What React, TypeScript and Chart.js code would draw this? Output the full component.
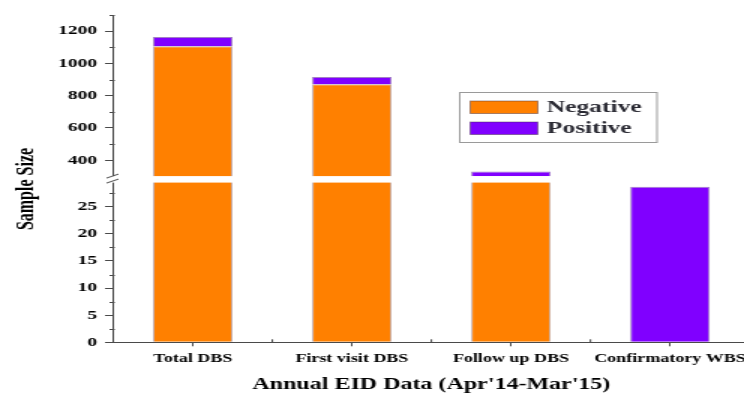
import React, { useEffect, useRef } from 'react';
import { Chart, registerables } from 'chart.js';

Chart.register(...registerables);

// ---- data ----
const categories = ['Total DBS', 'First visit DBS', 'Follow up DBS', 'Confirmatory WBS'];
const seriesNames = ['Negative', 'Positive'];
const negativeValues = [1107, 871, 300, 0];
const positiveValues = [56, 44, 30, 28.7];
const upperTickValues = [400, 500, 600, 700, 800, 900, 1000, 1100, 1200, 1300];
const upperTickLabels = ['400', '', '600', '', '800', '', '1000', '', '1200', ''];
const lowerTickValues = [0, 2.5, 5, 7.5, 10, 12.5, 15, 17.5, 20, 22.5, 25, 27.5];
const lowerTickLabels = ['0', '', '5', '', '10', '', '15', '', '20', '', '25', ''];
const upperRange = [280, 1300];
const lowerRange = [0, 30];
const xTitle = "Annual EID Data (Apr'14-Mar'15)";
const yTitle = 'Sample Size';

// ---- styles ----
const ORANGE = '#FF8000';
const PURPLE = '#8000FF';
const AXIS = '#4a4a4a';
const TEXT = '#000000';
const FONT = "'Liberation Serif', 'Times New Roman', serif";
const W = 504;
const H = 394;
const SX = 1.5;
const PLOT_TOP = 15;
const PLOT_BOTTOM = 342.3;
const PLOT_LEFT = 75.5;
const PLOT_RIGHT = 499.7;

const clipPlugin = {
  id: 'segClip',
  beforeDatasetDraw(chart: any, args: any) {
    const ys = chart.scales[args.meta.yAxisID];
    const ctx = chart.ctx;
    ctx.save();
    ctx.beginPath();
    ctx.rect(chart.chartArea.left, ys.top, chart.chartArea.right - chart.chartArea.left, ys.bottom - ys.top);
    ctx.clip();
  },
  afterDatasetDraw(chart: any) {
    chart.ctx.restore();
  },
};

const decorPlugin = {
  id: 'decor',
  afterDatasetsDraw(chart: any) {
    const ctx = chart.ctx;
    const area = chart.chartArea;
    const lower = chart.scales.y;
    const upper = chart.scales.yTop;
    const x = chart.scales.x;
    const axisX = area.left;
    ctx.save();
    // break band
    const by = lower.top;
    ctx.fillStyle = '#ffffff';
    ctx.fillRect(axisX - 6, by - 3.5, area.right - axisX + 6, 6.5);
    // break marks
    ctx.strokeStyle = AXIS;
    ctx.lineWidth = 1;
    ctx.beginPath();
    ctx.moveTo(axisX - 4.5, by - 1.5);
    ctx.lineTo(axisX + 3.5, by - 5.5);
    ctx.moveTo(axisX - 4.5, by + 3.5);
    ctx.lineTo(axisX + 3.5, by - 0.5);
    ctx.stroke();
    // minor y ticks
    ctx.beginPath();
    upperTickValues.forEach((v, i) => {
      if (upperTickLabels[i] === '') {
        const py = Math.round(upper.getPixelForValue(v)) + 0.5;
        ctx.moveTo(axisX - 2.5, py);
        ctx.lineTo(axisX + 1, py);
      }
    });
    lowerTickValues.forEach((v, i) => {
      if (lowerTickLabels[i] === '') {
        const py = Math.round(lower.getPixelForValue(v)) + 0.5;
        ctx.moveTo(axisX - 2.5, py);
        ctx.lineTo(axisX + 1, py);
      }
    });
    // category boundary ticks on x axis
    const n = categories.length;
    for (let i = 0; i <= n; i++) {
      const px = x.left + (i * (x.right - x.left)) / n;
      ctx.moveTo(px, area.bottom);
      ctx.lineTo(px, area.bottom - 3);
    }
    ctx.stroke();
    ctx.restore();
  },
  afterDraw(chart: any) {
    const ctx = chart.ctx;
    ctx.save();
    // y axis title
    ctx.translate(18, 189);
    ctx.rotate(-Math.PI / 2);
    ctx.fillStyle = TEXT;
    ctx.font = `bold 16px ${FONT}`;
    ctx.textAlign = 'center';
    ctx.textBaseline = 'middle';
    ctx.fillText(yTitle, 0, 0);
    ctx.restore();

    // legend
    ctx.save();
    const lx = 306.5, ly = 92.5, lw = 131.5, lh = 50;
    ctx.fillStyle = '#ffffff';
    ctx.fillRect(lx, ly, lw, lh);
    ctx.strokeStyle = '#9a9a9a';
    ctx.lineWidth = 1;
    ctx.strokeRect(lx, ly, lw, lh);
    const colors = [ORANGE, PURPLE];
    const rows = [101, 122];
    seriesNames.forEach((name, i) => {
      ctx.fillStyle = colors[i];
      ctx.fillRect(313.5, rows[i], 45, 12.5);
      ctx.strokeStyle = 'rgba(60,40,60,0.45)';
      ctx.strokeRect(313.5, rows[i], 45, 12.5);
      ctx.fillStyle = '#2a2a33';
      ctx.font = `bold 17px ${FONT}`;
      ctx.textAlign = 'left';
      ctx.textBaseline = 'middle';
      ctx.fillText(name, 364.5, rows[i] + 6.5);
    });
    ctx.restore();
  },
};

export default function App() {
  const ref = useRef<HTMLCanvasElement | null>(null);

  useEffect(() => {
    if (!ref.current) return;
    const barCommon = {
      borderWidth: 1,
      borderSkipped: 'start' as const,
      barPercentage: 0.5,
      categoryPercentage: 1,
      stack: 's',
    };
    const chart = new Chart(ref.current, {
      type: 'bar',
      data: {
        labels: categories,
        datasets: [
          { ...barCommon, label: seriesNames[0], data: negativeValues, backgroundColor: ORANGE, borderColor: 'rgba(120,70,70,0.45)', yAxisID: 'y' },
          { ...barCommon, label: seriesNames[1], data: positiveValues, backgroundColor: PURPLE, borderColor: 'rgba(70,0,140,0.5)', yAxisID: 'y' },
          { ...barCommon, label: seriesNames[0], data: negativeValues, backgroundColor: ORANGE, borderColor: 'rgba(120,70,70,0.45)', yAxisID: 'yTop' },
          { ...barCommon, label: seriesNames[1], data: positiveValues, backgroundColor: PURPLE, borderColor: 'rgba(70,0,140,0.5)', yAxisID: 'yTop' },
        ],
      },
      options: {
        responsive: false,
        animation: false,
        devicePixelRatio: 1,
        layout: { padding: { top: PLOT_TOP, left: 0, right: W - PLOT_RIGHT, bottom: 0 } },
        plugins: { legend: { display: false }, tooltip: { enabled: false } },
        scales: {
          x: {
            type: 'category',
            position: 'bottom',
            stacked: true,
            offset: true,
            grid: { display: true, drawOnChartArea: false, drawTicks: true, tickLength: 4, offset: false, color: AXIS, tickColor: AXIS },
            border: { display: true, color: AXIS, width: 1 },
            ticks: { color: TEXT, font: { family: FONT, size: 12, weight: 'bold' }, padding: 5, maxRotation: 0, autoSkip: false },
            title: { display: true, text: xTitle, color: TEXT, font: { family: FONT, size: 16, weight: 'bold' }, padding: { top: 0, bottom: 0 } },
            afterFit: (s: any) => { s.height = H - PLOT_BOTTOM; },
          },
          y: {
            type: 'linear',
            position: 'left',
            stack: 'broken',
            stackWeight: (lowerRange[1] - lowerRange[0]) * 5.42,
            stacked: true,
            min: lowerRange[0],
            max: lowerRange[1],
            grid: {
              display: true, drawOnChartArea: false, drawTicks: true, tickLength: 5.5,
              tickColor: (c: any) => (lowerTickLabels[c.index] ? AXIS : 'rgba(0,0,0,0)'),
            },
            border: { display: true, color: AXIS, width: 1 },
            afterBuildTicks: (s: any) => { s.ticks = lowerTickValues.map((v) => ({ value: v })); },
            ticks: { autoSkip: false, color: TEXT, padding: 5.3, font: { family: FONT, size: 13, weight: 'bold' }, callback: (_v: any, i: number) => lowerTickLabels[i] },
            afterFit: (s: any) => { s.width = PLOT_LEFT; },
          },
          yTop: {
            type: 'linear',
            position: 'left',
            stack: 'broken',
            stackWeight: (upperRange[1] - upperRange[0]) * 0.16125,
            stacked: true,
            min: upperRange[0],
            max: upperRange[1],
            grid: {
              display: true, drawOnChartArea: false, drawTicks: true, tickLength: 5.5,
              tickColor: (c: any) => (upperTickLabels[c.index] ? AXIS : 'rgba(0,0,0,0)'),
            },
            border: { display: true, color: AXIS, width: 1 },
            afterBuildTicks: (s: any) => { s.ticks = upperTickValues.map((v) => ({ value: v })); },
            ticks: { autoSkip: false, color: TEXT, padding: 5.3, font: { family: FONT, size: 13, weight: 'bold' }, callback: (_v: any, i: number) => upperTickLabels[i] },
            afterFit: (s: any) => { s.width = PLOT_LEFT; },
          },
        },
      } as any,
      plugins: [clipPlugin, decorPlugin],
    });
    return () => chart.destroy();
  }, []);

  return (
    <div style={{ position: 'fixed', left: 0, top: 0, width: 744, height: 394, overflow: 'hidden', background: '#ffffff' }}>
      <div style={{ width: W, height: H, transform: `scaleX(${SX})`, transformOrigin: '0 0' }}>
        <canvas ref={ref} width={W} height={H} style={{ display: 'block' }} />
      </div>
    </div>
  );
}
